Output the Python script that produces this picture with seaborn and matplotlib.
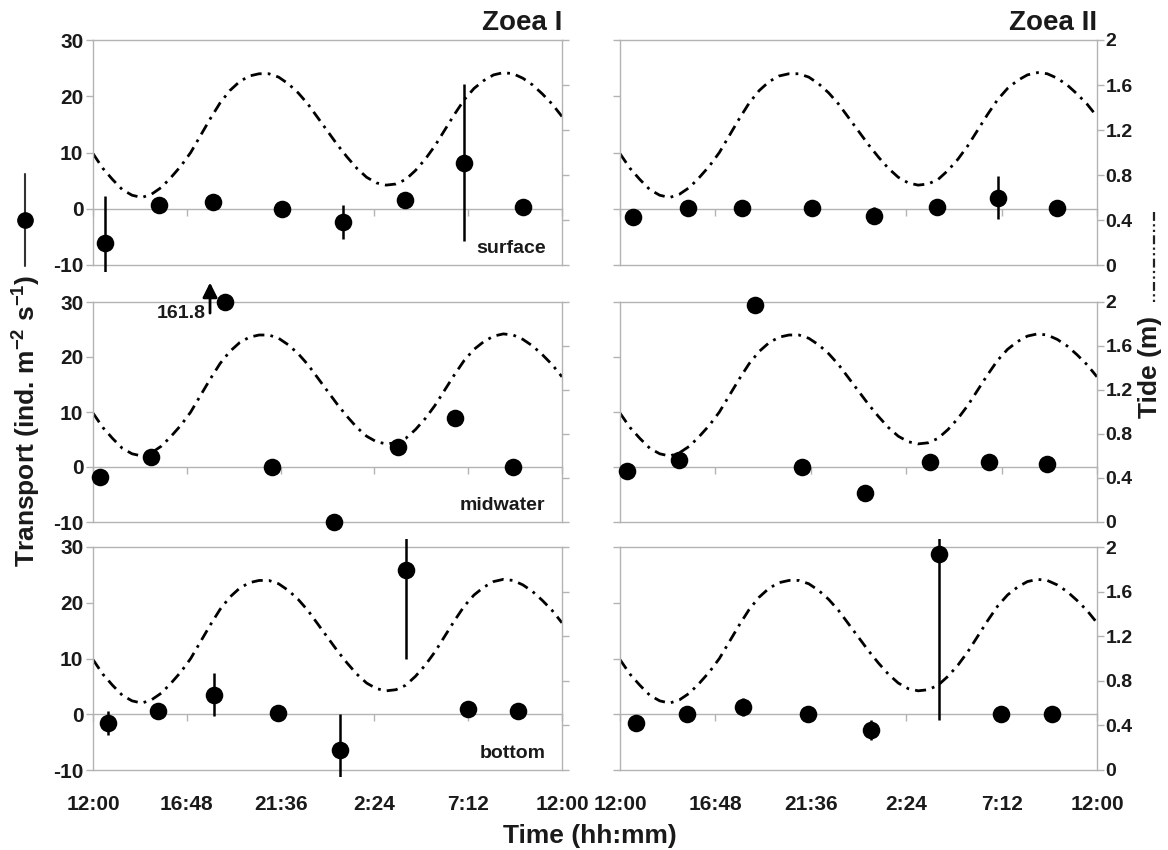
import numpy as np
import matplotlib
matplotlib.use("Agg")
import matplotlib.pyplot as plt
import seaborn as sns
from matplotlib.lines import Line2D
from matplotlib.transforms import Bbox, TransformedBbox, offset_copy

# ---------------- data ----------------
tick_hours = [0, 4.8, 9.6, 14.4, 19.2, 24]
tick_labels = ["12:00", "16:48", "21:36", "2:24", "7:12", "12:00"]
transport_ticks = [-10, 0, 10, 20, 30]
tide_ticks = [0, 0.4, 0.8, 1.2, 1.6, 2]
tide_tick_labels = ["0", "0.4", "0.8", "1.2", "1.6", "2"]

# tide height (m), hours after 12:00
tide_hours = [0.0, 0.5, 1.0, 1.5, 2.0, 2.5, 3.0, 3.5, 4.0, 4.5, 5.0, 5.5, 6.0,
              6.5, 7.0, 7.5, 8.0, 8.5, 9.0, 9.5, 10.0, 10.5, 11.0, 11.5, 12.0,
              12.5, 13.0, 13.5, 14.0, 14.5, 15.0, 15.5, 16.0, 16.5, 17.0, 17.5,
              18.0, 18.5, 19.0, 19.5, 20.0, 20.5, 21.0, 21.5, 22.0, 22.5, 23.0,
              23.5, 24.0]
tide_m = [0.99, 0.86, 0.76, 0.67, 0.62, 0.60, 0.63, 0.69, 0.78, 0.88, 1.00,
          1.15, 1.30, 1.44, 1.55, 1.63, 1.68, 1.70, 1.70, 1.67, 1.61, 1.53,
          1.43, 1.31, 1.19, 1.07, 0.96, 0.86, 0.78, 0.73, 0.71, 0.72, 0.76,
          0.84, 0.94, 1.06, 1.20, 1.34, 1.47, 1.57, 1.64, 1.69, 1.71, 1.70,
          1.66, 1.60, 1.52, 1.43, 1.32]

# sampling times (hours after 12:00)
surface_hours = [0.63, 3.40, 6.15, 9.67, 12.80, 15.97, 19.00, 22.00]
midwater_hours = [0.36, 2.95, 6.77, 9.18, 12.31, 15.60, 18.55, 21.50]
bottom_hours = [0.79, 3.35, 6.19, 9.47, 12.65, 16.04, 19.19, 21.73]

# transport (ind. m-2 s-1) and standard errors
surface_z1 = [-6.0, 0.6, 1.2, 0.0, -2.4, 1.5, 8.2, 0.3]
surface_z1_err = [8.3, 0, 0, 0, 3.0, 0, 14.0, 0]
surface_z2 = [-1.5, 0.1, 0.1, 0.1, -1.2, 0.3, 2.0, 0.1]
surface_z2_err = [1.4, 0, 0, 0, 1.5, 0, 3.8, 0]

midwater_z1 = [-1.9, 1.8, 161.8, 0.0, -10.0, 3.6, 9.0, 0.0]
midwater_z1_err = [0, 0, 0, 0, 0, 0, 0, 0]
midwater_z2 = [-0.7, 1.2, 29.4, 0.0, -4.8, 0.9, 0.9, 0.6]
midwater_z2_err = [0, 0, 0, 0, 0, 0, 0, 0]

bottom_z1 = [-1.6, 0.6, 3.5, 0.3, -6.4, 25.8, 1.0, 0.6]
bottom_z1_err = [2.2, 0, 3.9, 0, 6.4, 15.9, 0, 0]
bottom_z2 = [-1.6, 0.1, 1.3, 0.1, -2.8, 28.8, 0.1, 0.1]
bottom_z2_err = [0, 0, 1.6, 0, 1.8, 29.9, 0, 0]

stage_titles = ["Zoea I", "Zoea II"]
depth_labels = ["surface", "midwater", "bottom"]

# ---------------- style ----------------
sns.set_style("white")
plt.rcParams["font.family"] = ["Liberation Sans", "DejaVu Sans"]
plt.rcParams["font.weight"] = "bold"
plt.rcParams["mathtext.fontset"] = "custom"
plt.rcParams["mathtext.rm"] = "Liberation Sans:bold"
plt.rcParams["mathtext.default"] = "regular"

GREY = "#b3b3b3"
INK = "#1a1a1a"
TICK_FS = 15
TIDE_FS = 14
YMAX = 30

W, H = 1168, 850
fig = plt.figure(figsize=(W / 100, H / 100), dpi=100)

col_x = [(93, 562), (620, 1097)]
row_y = [(40, 265), (302, 522), (547, 770)]

panels = [
    [(surface_hours, surface_z1, surface_z1_err), (surface_hours, surface_z2, surface_z2_err)],
    [(midwater_hours, midwater_z1, midwater_z1_err), (midwater_hours, midwater_z2, midwater_z2_err)],
    [(bottom_hours, bottom_z1, bottom_z1_err), (bottom_hours, bottom_z2, bottom_z2_err)],
]

tide_dash = (0, (4, 2.2, 1, 2.2))

for r, (y0, y1) in enumerate(row_y):
    for c, (x0, x1) in enumerate(col_x):
        hours, vals, errs = panels[r][c]
        ax = fig.add_axes([x0 / W, 1 - y1 / H, (x1 - x0) / W, (y1 - y0) / H])
        ax2 = ax.twinx()
        ax.set_zorder(ax2.get_zorder() + 1)
        ax.patch.set_visible(False)

        # tide curve
        sns.lineplot(x=tide_hours, y=tide_m, ax=ax2, color="black", lw=2.0,
                     linestyle=tide_dash, sort=False)
        ax2.set_ylim(0, 2)
        ax2.set_yticks(tide_ticks)
        ax2.set_yticklabels(tide_tick_labels if c == 1 else [])
        ax2.tick_params(axis="y", right=True, direction="out", length=5,
                        width=1, color=GREY, labelsize=TIDE_FS, pad=1,
                        labelcolor=INK)
        ax2.set_ylabel("")
        for s in ["top", "left", "bottom"]:
            ax2.spines[s].set_visible(False)
        ax2.spines["right"].set_color(GREY)
        ax2.spines["right"].set_linewidth(1)

        # transport points and error bars
        vals_arr = np.asarray(vals, dtype=float)
        shown = np.minimum(vals_arr, YMAX)
        eb = ax.errorbar(hours, shown, yerr=errs, fmt="none", ecolor="black",
                         elinewidth=1.8, capsize=0, zorder=4)
        clip = TransformedBbox(Bbox([[0, -0.03], [1, 1.035]]), ax.transAxes)
        for coll in eb.lines[2]:
            coll.set_clip_box(clip)
        sns.scatterplot(x=hours, y=shown, ax=ax, color="black", s=160,
                        edgecolor="black", linewidth=0, clip_on=False,
                        zorder=5, legend=False)

        ax.set_xlim(0, 24)
        ax.set_ylim(-10, 30)
        ax.set_yticks(transport_ticks)
        if c == 0:
            ax.set_yticklabels([str(t) for t in transport_ticks])
        else:
            ax.set_yticklabels([])
        ax.tick_params(axis="y", left=True, direction="out", length=5, width=1,
                       color=GREY, labelsize=TICK_FS, pad=2, labelcolor=INK)
        ax.set_xticks(tick_hours)
        ax.tick_params(axis="x", bottom=True, direction="out", length=5,
                       width=1, color=GREY, labelbottom=False)
        ax.spines["bottom"].set_position(("data", 0))
        for s in ["left", "top", "bottom"]:
            ax.spines[s].set_color(GREY)
            ax.spines[s].set_linewidth(1)
        ax.spines["right"].set_visible(False)
        ax.set_xlabel("")
        ax.set_ylabel("")

        sec = ax.secondary_xaxis("bottom")
        sec.set_xticks(tick_hours)
        sec.set_xticklabels(tick_labels if r == 2 else [])
        sec.tick_params(length=0, pad=18, labelsize=TICK_FS, labelcolor=INK)
        sec.spines["bottom"].set_color(GREY)
        sec.spines["bottom"].set_linewidth(1)

        if c == 0:
            ax.text(0.965, 0.075, depth_labels[r], transform=ax.transAxes,
                    ha="right", va="center", fontsize=14, fontweight="bold",
                    color=INK, zorder=6)

        if r == 0:
            ax.set_title(stage_titles[c], loc="right", fontsize=20,
                         fontweight="bold", pad=7, color=INK)

        # off-scale value marker
        if vals_arr.max() > YMAX:
            i_big = int(np.argmax(vals_arr))
            xb = hours[i_big]
            head = offset_copy(ax.transData, fig=fig, x=-11, y=14, units="points")
            ax.annotate("", xy=(xb, YMAX), xycoords=head, xytext=(0, -22),
                        textcoords="offset points", annotation_clip=False,
                        arrowprops=dict(arrowstyle="-|>", color="black", lw=2.0,
                                        mutation_scale=22, shrinkA=0, shrinkB=0))
            ax.annotate(f"{vals_arr[i_big]:g}", xy=(xb, YMAX), xytext=(-14, -8),
                        textcoords="offset points", ha="right", va="center",
                        fontsize=14, fontweight="bold", color=INK,
                        annotation_clip=False)

# axis titles
fig.text(27 / W, 1 - 421 / H, "Transport (ind. m$^{-2}$ s$^{-1}$)", rotation=90,
         ha="center", va="center", fontsize=19, fontweight="bold", color=INK)
fig.text(1150 / W, 1 - 367 / H, "Tide (m)", rotation=90, ha="center",
         va="center", fontsize=19, fontweight="bold", color=INK)
fig.text(590 / W, 1 - 836 / H, "Time (hh:mm)", ha="center", va="center",
         fontsize=19, fontweight="bold", color=INK)

# series key symbols beside axis titles
fig.add_artist(Line2D([25 / W, 25 / W], [1 - 174 / H, 1 - 266 / H],
                      color="#333333", lw=1.5, transform=fig.transFigure))
fig.add_artist(Line2D([25 / W], [1 - 220 / H], marker="o", markersize=11,
                      color="black", linestyle="none",
                      transform=fig.transFigure))
fig.add_artist(Line2D([1154 / W, 1154 / W], [1 - 212 / H, 1 - 304 / H],
                      color="#222222", lw=1.6,
                      linestyle=(0, (4, 1.5, 1, 1.5, 1, 1.5)),
                      transform=fig.transFigure))

fig.savefig("out.png", dpi=100)
